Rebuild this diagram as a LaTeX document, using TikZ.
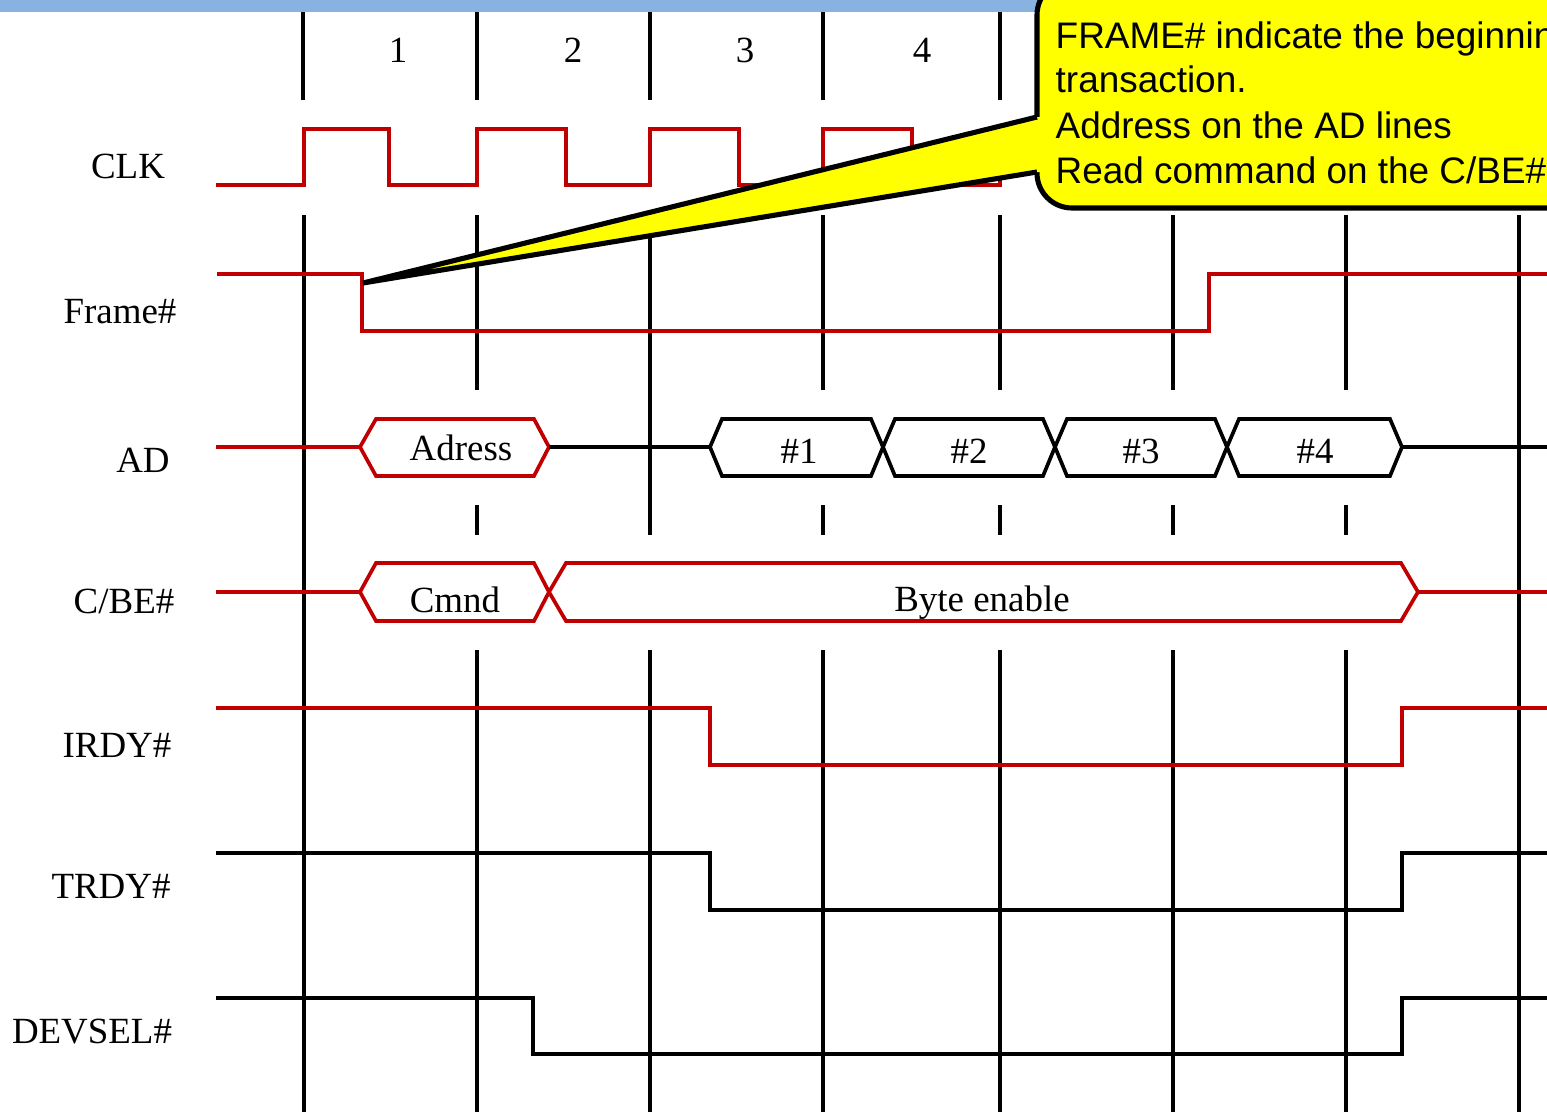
\documentclass[tikz,border=0pt]{standalone}
\usepackage{fontspec}
\setmainfont{Liberation Serif}
\newfontfamily\arialf{Liberation Sans}
\definecolor{sigred}{RGB}{192,0,0}
\definecolor{barblue}{RGB}{136,179,224}
\definecolor{callyellow}{RGB}{255,255,0}
\begin{document}
\begin{tikzpicture}[x=0.01cm, y=-0.01cm,
  gridln/.style={line width=0.95pt, black},
  redsig/.style={line width=1.05pt, sigred, line join=miter},
  blksig/.style={line width=1.05pt, black, line join=miter},
  lbl/.style={font=\fontsize{10.5pt}{12.6pt}\selectfont, anchor=base, inner sep=0pt},
  calltxt/.style={font=\arialf\fontsize{10.5pt}{12.6pt}\selectfont, anchor=base west, inner sep=0pt}]
\useasboundingbox (0,0) rectangle (1547,1112);
\clip (0,0) rectangle (1547,1112);
% top bar
\fill[barblue] (0,0) rectangle (1060,12);
% top clock-number separators
\draw[gridln, line width=1.4pt] (303,12) -- (303,100);
\foreach \x in {477,650,823,1000} \draw[gridln] (\x,12) -- (\x,100);
% long verticals
\foreach \x in {304,1519} \draw[gridln] (\x,215) -- (\x,1112);
\foreach \x in {477,823,1000,1173,1346} {
  \draw[gridln] (\x,215) -- (\x,390);
  \draw[gridln] (\x,505) -- (\x,535);
  \draw[gridln] (\x,650) -- (\x,1112);
}
\draw[gridln] (650,215) -- (650,535);
\draw[gridln] (650,650) -- (650,1112);
% clock numbers
\node[lbl] (n1) at (398,62) {1};
\node[lbl] (n2) at (573,62) {2};
\node[lbl] (n3) at (745,62) {3};
\node[lbl] (n4) at (922,62) {4};
% signal labels
\node[lbl] (lclk) at (128,178) {CLK};
\node[lbl] (lframe) at (120,323) {Frame\#};
\node[lbl] (lad) at (143,472) {AD};
\node[lbl] (lcbe) at (124,613) {C/BE\#};
\node[lbl] (lirdy) at (117,757) {IRDY\#};
\node[lbl] (ltrdy) at (111,898) {TRDY\#};
\node[lbl] (ldevsel) at (92,1043) {DEVSEL\#};
% CLK
\draw[redsig] (216,185) -- (304,185) -- (304,129) -- (389,129) -- (389,185)
  -- (477,185) -- (477,129) -- (566,129) -- (566,185)
  -- (650,185) -- (650,129) -- (739,129) -- (739,185)
  -- (823,185) -- (823,129) -- (912,129) -- (912,185)
  -- (1000,185) -- (1000,129) -- (1089,129) -- (1089,185)
  -- (1173,185) -- (1173,129) -- (1262,129) -- (1262,185)
  -- (1346,185) -- (1346,129) -- (1435,129) -- (1435,185)
  -- (1519,185) -- (1519,129) -- (1560,129);
% Frame#
\draw[redsig] (217,274) -- (362,274) -- (362,331) -- (1209,331) -- (1209,274) -- (1560,274);
% AD
\draw[redsig] (216,447) -- (360,447);
\draw[redsig] (360,447) -- (376,419) -- (534,419) -- (549,447) -- (534,476) -- (376,476) -- cycle;
\node[lbl] (adr) at (461,460) {Adress};
\draw[blksig] (549,447) -- (710,447);
\foreach \a/\b in {710/883, 883/1055, 1055/1227, 1227/1402} {
  \draw[blksig] (\a,447) -- (\a+12,419) -- (\b-12,419) -- (\b,447) -- (\b-12,476) -- (\a+12,476) -- cycle;
}
\node[lbl] (d1) at (799,463) {\#1};
\node[lbl] (d2) at (969,463) {\#2};
\node[lbl] (d3) at (1141,463) {\#3};
\node[lbl] (d4) at (1315,463) {\#4};
\draw[blksig] (1402,447) -- (1560,447);
% C/BE#
\draw[redsig] (216,592) -- (360,592);
\draw[redsig] (360,592) -- (376,563) -- (534,563) -- (549,592) -- (534,621) -- (376,621) -- cycle;
\draw[redsig] (549,592) -- (566,563) -- (1401,563) -- (1418,592) -- (1401,621) -- (566,621) -- cycle;
\node[lbl] (cmnd) at (455,612) {Cmnd};
\node[lbl] (byte) at (982,611) {Byte enable};
\draw[redsig] (1418,592) -- (1560,592);
% IRDY#
\draw[redsig] (216,708) -- (710,708) -- (710,765) -- (1402,765) -- (1402,708) -- (1560,708);
% TRDY#
\draw[blksig] (216,853) -- (710,853) -- (710,910) -- (1402,910) -- (1402,853) -- (1560,853);
% DEVSEL#
\draw[blksig] (216,998) -- (533,998) -- (533,1054) -- (1402,1054) -- (1402,998) -- (1560,998);
% callout
\draw[line width=1.45pt, fill=callyellow, rounded corners=0.35cm] (1037,-20) rectangle (1620,208);
\fill[callyellow] (363,283) -- (1037,117) -- (1046,117) -- (1046,172) -- (1037,172) -- cycle;
\draw[line width=1.45pt, line join=miter] (1037,117) -- (363,283) -- (1037,172);
\node[calltxt] (c1) at (1055,48) {FRAME\# indicate the beginning};
\node[calltxt] (c2) at (1055,92) {transaction.};
\node[calltxt] (c3) at (1055,138) {Address on the AD lines};
\node[calltxt] (c4) at (1055,183) {Read command on the C/BE\#};
\end{tikzpicture}
\end{document}
